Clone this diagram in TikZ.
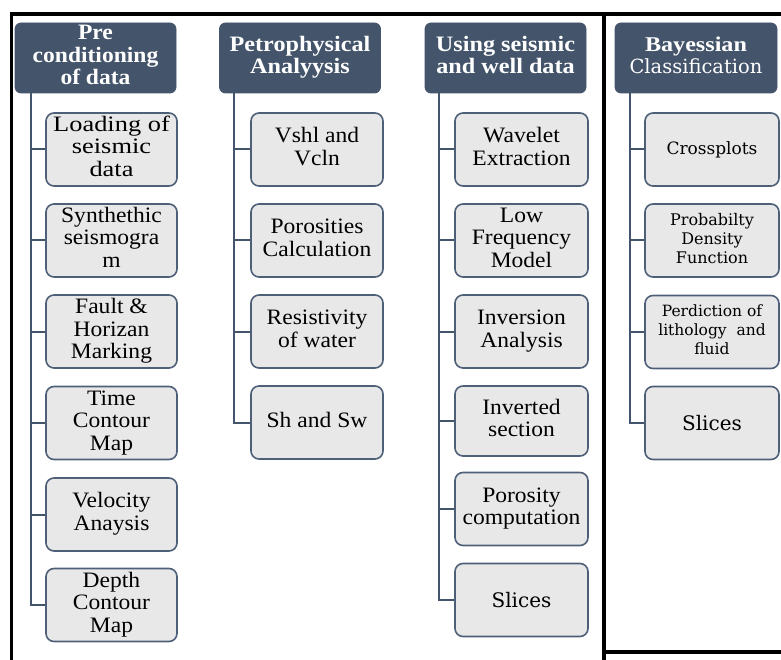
\documentclass[tikz,border=0pt]{standalone}
\usepackage{fontspec}
\usepackage{graphicx}
\setmainfont{Liberation Serif}
\newfontfamily\dvserif{DejaVu Serif}

\definecolor{slate}{HTML}{44546A}
\definecolor{boxgray}{HTML}{E8E8E8}
\definecolor{boxedge}{HTML}{4E5F78}

% centred stack of lines, stretched horizontally by the optional factor
\newcommand\cellstack[2][1.07]{\scalebox{#1}[1]{\begin{tabular}{@{}c@{}}#2\end{tabular}}}

\tikzset{
  head/.style={fill=slate, draw=slate, line width=0.8pt, rounded corners=6pt,
    minimum width=161pt, minimum height=70pt, inner sep=0pt, text=white,
    font=\bfseries\fontsize{22}{22.5}\selectfont},
  sub/.style={fill=boxgray, draw=boxedge, line width=1.6pt, rounded corners=8pt,
    minimum width=132pt, minimum height=73pt, inner sep=0pt, text=black,
    font=\fontsize{22}{22.5}\selectfont},
  subdv/.style={sub, font=\dvserif\fontsize{16}{19}\selectfont},
  conn/.style={draw=slate, line width=2pt},
  frame/.style={draw=black, line width=3.5pt},
}

\begin{document}
\begin{tikzpicture}[x=1pt,y=-1pt]
\useasboundingbox (0,0) rectangle (781,660);

% outer frames
\draw[frame] (11.5,660) -- (11.5,14) -- (781,14);
\draw[frame] (604,14) -- (604,660);
\draw[frame] (604,652) -- (781,652);

% column headers
\node[head] (h1) at (95.5,58) {\cellstack[1.07]{Pre\\conditioning\\of data}};
\node[head] (h2) at (300,58) {\cellstack[1.1]{Petrophysical\\Analyysis}};
\node[head] (h3) at (505.5,58) {\cellstack[1.1]{Using seismic\\and well data}};
\node[head, minimum width=162pt] (h4) at (696,58) {\cellstack[1]{{\fontsize{21}{22.5}\selectfont\scalebox{1.15}[1]{Bayessian}}\\{\mdseries\dvserif\fontsize{19.5}{22.5}\selectfont Classification}}};

% column 1
\node[sub, minimum width=131pt] (c11) at (111.5,149.5) {\cellstack[1.2]{Loading of\\seismic\\data}};
\node[sub, minimum width=131pt] (c12) at (111.5,240.5) {\cellstack{Synthethic\\seismogra\\m}};
\node[sub, minimum width=131pt] (c13) at (111.5,331.5) {\cellstack{Fault \&\\Horizan\\Marking}};
\node[sub, minimum width=131pt] (c14) at (111.5,423) {\cellstack{Time\\Contour\\Map}};
\node[sub, minimum width=131pt] (c15) at (111.5,514.5) {\cellstack{Velocity\\Anaysis}};
\node[sub, minimum width=131pt] (c16) at (111.5,605) {\cellstack{Depth\\Contour\\Map}};

% column 2
\node[sub] (c21) at (317,149.5) {\cellstack{Vshl and\\Vcln}};
\node[sub] (c22) at (317,240.5) {\cellstack{Porosities\\Calculation}};
\node[sub] (c23) at (317,331.5) {\cellstack{Resistivity\\of water}};
\node[sub] (c24) at (317,422.5) {\cellstack{Sh and Sw}};

% column 3
\node[sub, minimum width=133pt] (c31) at (521.5,149.5) {\cellstack{Wavelet\\Extraction}};
\node[sub, minimum width=133pt] (c32) at (521.5,240.5) {\cellstack{Low\\Frequency\\Model}};
\node[sub, minimum width=133pt] (c33) at (521.5,331.5) {\cellstack{Inversion\\Analysis}};
\node[sub, minimum width=133pt, minimum height=70pt] (c34) at (521.5,421) {\cellstack{Inverted\\section}};
\node[sub, minimum width=133pt] (c35) at (521.5,509) {\cellstack{Porosity\\computation}};
\node[sub, minimum width=133pt, font=\dvserif\fontsize{20}{22}\selectfont] (c36) at (521.5,600) {Slices};

% column 4
\node[subdv, minimum width=134pt, font=\dvserif\fontsize{17}{19}\selectfont] (c41) at (712,149.5) {Crossplots};
\node[subdv, minimum width=134pt] (c42) at (712,240.5) {\cellstack[1]{Probabilty\\Density\\Function}};
\node[subdv, minimum width=134pt, font=\dvserif\fontsize{15.5}{19}\selectfont] (c43) at (712,332) {\cellstack[1]{Perdiction of\\lithology\ \ and\\fluid}};
\node[subdv, minimum width=134pt, font=\dvserif\fontsize{20}{22}\selectfont] (c44) at (712,423) {Slices};

% trunks and branches
\draw[conn] ([xshift=16pt]h1.south west) |- (c16.west);
\foreach \c in {c11,c12,c13,c14,c15}
  \draw[conn] ([xshift=16pt]h1.south west |- \c.west) -- (\c.west);

\draw[conn] ([xshift=15pt]h2.south west) |- (c24.west);
\foreach \c in {c21,c22,c23}
  \draw[conn] ([xshift=15pt]h2.south west |- \c.west) -- (\c.west);

\draw[conn] ([xshift=14pt]h3.south west) |- (c36.west);
\foreach \c in {c31,c32,c33,c34,c35}
  \draw[conn] ([xshift=14pt]h3.south west |- \c.west) -- (\c.west);

\draw[conn] ([xshift=15pt]h4.south west) |- (c44.west);
\foreach \c in {c41,c42,c43}
  \draw[conn] ([xshift=15pt]h4.south west |- \c.west) -- (\c.west);
\end{tikzpicture}
\end{document}
